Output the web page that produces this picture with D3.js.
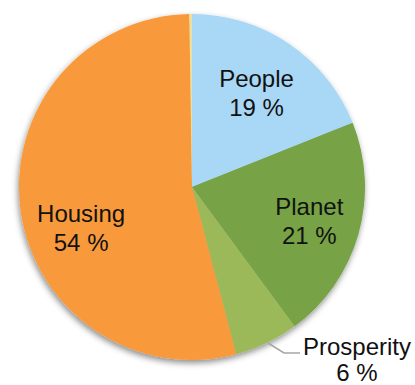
<!DOCTYPE html>
<html><head><meta charset="utf-8">
<script src="https://cdn.jsdelivr.net/npm/d3@7"></script>
<style>html,body{margin:0;padding:0;background:#fff;}svg{display:block;}</style>
</head><body>
<svg id="c" width="415" height="385"></svg>
<script>
const categories = ["People", "Planet", "Prosperity", "Housing", ""];
const values = [19, 21, 6, 54, 0.25];
const percentLabels = ["19 %", "21 %", "6 %", "54 %", ""];
const colors = ["#a9d7f6", "#77a244", "#9cb95a", "#f89a3a", "#ece0a0"];

const svg = d3.select("#c");
const cx = 192, cy = 187, R = 173;
const defs = svg.append("defs");
const f = defs.append("filter").attr("id","sh").attr("x","-20%").attr("y","-20%").attr("width","140%").attr("height","140%");
f.append("feDropShadow").attr("dx",-1).attr("dy",3).attr("stdDeviation",3).attr("flood-color","#000").attr("flood-opacity",0.45);

const pie = d3.pie().sort(null).value(d => d);
const arcs = pie(values);
const arc = d3.arc().innerRadius(0).outerRadius(R);
const g = svg.append("g").attr("transform", `translate(${cx},${cy})`);
const slices = g.append("g").attr("filter","url(#sh)");
slices.selectAll("path").data(arcs).join("path")
  .attr("d", arc).attr("fill", (d,i) => colors[i]);

// label placement
const labelR = [115, 122, null, 118];
const adjust = [[0,0],[0,0],[0,0],[6,24]];
const fontFam = "'Liberation Sans', Arial, sans-serif";
arcs.forEach((d,i) => {
  if (!categories[i]) return;
  let x, y;
  if (i === 2) {
    const lx = 303 - cx, ly = 353 - cy;
    g.append("polyline")
      .attr("points", [[268-cx, 343-cy],[284-cx, ly],[lx-3, ly]].map(p=>p.join(",")).join(" "))
      .attr("fill","none").attr("stroke","#a6a6a6").attr("stroke-width",1.5);
    x = 357 - cx; y = 355 - cy;
    const t = g.append("text").attr("font-family",fontFam).attr("font-size",24).attr("fill","#111").attr("text-anchor","middle");
    t.append("tspan").attr("x",x).attr("y",y).text(categories[i]);
    t.append("tspan").attr("x",x).attr("y",y+26).text(percentLabels[i]);
    return;
  }
  const a = (d.startAngle + d.endAngle)/2;
  x = Math.sin(a)*labelR[i] + adjust[i][0];
  y = -Math.cos(a)*labelR[i] + adjust[i][1];
  const t = g.append("text").attr("font-family",fontFam).attr("font-size",24).attr("fill","#111").attr("text-anchor","middle");
  t.append("tspan").attr("x",x).attr("y",y - 5).text(categories[i]);
  t.append("tspan").attr("x",x).attr("y",y + 24).text(percentLabels[i]);
});
</script>
</body></html>
